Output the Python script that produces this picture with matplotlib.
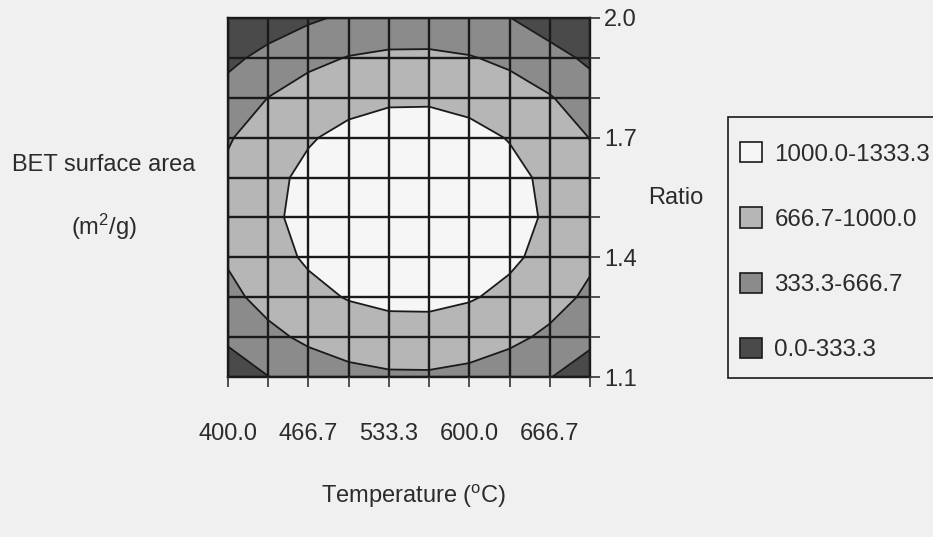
import matplotlib
matplotlib.use('Agg')
import matplotlib.pyplot as plt
from matplotlib.patches import Patch, Rectangle

# ---------------- data ----------------
temperature = [400.0, 433.3, 466.7, 500.0, 533.3, 566.7, 600.0, 633.3, 666.7, 700.0]
ratio = [1.1, 1.2, 1.3, 1.4, 1.5, 1.6, 1.7, 1.8, 1.9, 2.0]
# BET surface area (m2/g), rows follow ratio (1.1 -> 2.0), columns follow temperature
bet_area = [
    [135, 327, 472, 569, 618, 621, 576, 483, 344, 156],
    [394, 586, 731, 828, 877, 880, 835, 742, 603, 415],
    [583, 775, 920, 1017, 1066, 1069, 1024, 931, 792, 604],
    [702, 894, 1039, 1136, 1185, 1188, 1143, 1050, 911, 723],
    [751, 943, 1088, 1185, 1234, 1237, 1192, 1099, 960, 772],
    [730, 922, 1067, 1164, 1213, 1216, 1171, 1078, 939, 751],
    [639, 831, 976, 1073, 1122, 1125, 1080, 987, 848, 660],
    [478, 670, 815, 912, 961, 964, 919, 826, 687, 499],
    [247, 439, 584, 681, 730, 733, 688, 595, 456, 268],
    [10, 138, 283, 390, 429, 432, 387, 340, 155, 15],
]
levels = [0.0, 333.3, 666.7, 1000.0, 1333.3]
level_labels = ['0.0-333.3', '333.3-666.7', '666.7-1000.0', '1000.0-1333.3']
fill_colors = ['#4a4a4a', '#8b8b8b', '#b6b6b6', '#f6f6f6']
x_tick_labels = ['400.0', '', '466.7', '', '533.3', '', '600.0', '', '666.7', '']
y_tick_labels = ['1.1', '', '', '1.4', '', '', '1.7', '', '', '2.0']

# ---------------- style ----------------
W, H = 933, 537
bg = '#f0f0f0'
txt = '#2b2b2b'
plt.rcParams['font.family'] = ['Liberation Sans', 'DejaVu Sans']
plt.rcParams['mathtext.default'] = 'regular'
fs = 17

fig = plt.figure(figsize=(W / 100, H / 100), dpi=100, facecolor=bg)
ax = fig.add_axes([228 / W, 1 - 377 / H, 362 / W, 359 / H])
ax.set_facecolor(bg)

ax.contourf(temperature, ratio, bet_area, levels=levels, colors=fill_colors)
ax.contour(temperature, ratio, bet_area, levels=levels[1:-1], colors='#1a1a1a',
           linewidths=1.3)

ax.set_xlim(temperature[0], temperature[-1])
ax.set_ylim(ratio[0], ratio[-1])
ax.set_xticks(temperature)
ax.set_xticklabels(x_tick_labels)
ax.set_yticks(ratio)
ax.set_yticklabels(y_tick_labels)
ax.yaxis.tick_right()
ax.set_axisbelow(False)
ax.grid(True, color='#1a1a1a', linewidth=1.7)
for s in ax.spines.values():
    s.set_color('#1a1a1a')
    s.set_linewidth(1.7)
ax.tick_params(axis='x', direction='out', length=7, width=1.2, color='#333333',
               labelsize=fs, labelcolor=txt, pad=26)
ax.tick_params(axis='y', direction='out', length=7, width=1.2, color='#333333',
               labelsize=fs, labelcolor=txt, pad=3, left=False, right=True)

# axis titles
fig.text(104 / W, 1 - 165 / H, 'BET surface area', ha='center', va='center',
         fontsize=fs, color=txt)
fig.text(104 / W, 1 - 227 / H, '(m$^{2}$/g)', ha='center', va='center',
         fontsize=fs, color=txt)
fig.text(676 / W, 1 - 198 / H, 'Ratio', ha='center', va='center',
         fontsize=fs, color=txt)
fig.text(414 / W, 1 - 496 / H, 'Temperature ($^{o}$C)', ha='center', va='center',
         fontsize=fs, color=txt)

# legend box (runs off the right edge as in the reference)
fig.add_artist(Rectangle((728 / W, 1 - 378 / H), 230 / W, 261 / H,
                         transform=fig.transFigure, facecolor=bg,
                         edgecolor='#1a1a1a', linewidth=1.2, zorder=0))
handles = [Patch(facecolor=c, edgecolor='#1a1a1a', linewidth=1.2, label=l)
           for c, l in zip(fill_colors, level_labels)][::-1]
leg = fig.legend(handles=handles, loc='upper left',
                 bbox_to_anchor=(740 / W, 1 - 142 / H), bbox_transform=fig.transFigure,
                 borderaxespad=0, fontsize=17.4, frameon=False,
                 handlelength=0.92, handleheight=0.92, handletextpad=0.5,
                 labelspacing=1.73, borderpad=0)
for t in leg.get_texts():
    t.set_color(txt)

fig.savefig('out.png', dpi=100, facecolor=bg)
